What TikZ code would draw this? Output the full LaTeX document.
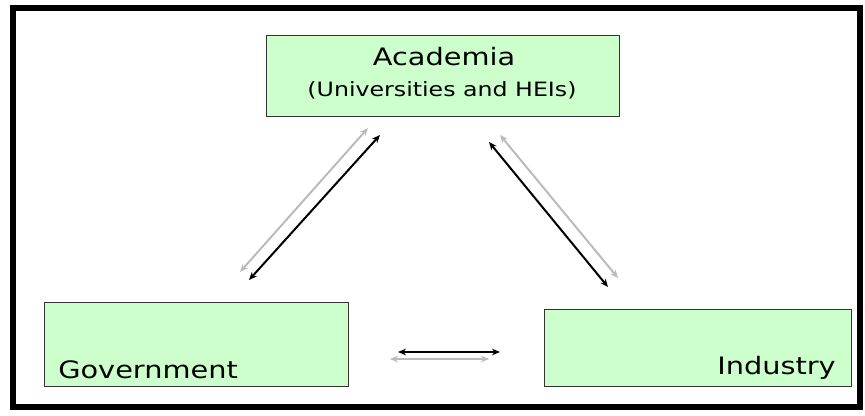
\documentclass[tikz,border=0pt]{standalone}
\usepackage{fontspec}
\usepackage{graphicx}
\setmainfont{DejaVu Sans}
\usetikzlibrary{arrows.meta}
\definecolor{boxgreen}{HTML}{CCFFCC}
\definecolor{lgray}{HTML}{BBBBBB}
\definecolor{edge}{HTML}{333333}
\newcommand{\wide}[1]{\scalebox{1.2}[1]{#1}}
\tikzset{
  entity/.style={draw=edge, line width=1.1pt, fill=boxgreen, inner sep=0pt},
  lbl/.style={inner sep=0pt, font=\fontsize{18}{21}\selectfont},
  link/.style={line width=1.5pt, {Stealth[length=6pt,width=5pt]}-{Stealth[length=6pt,width=5pt]}},
  blk/.style={link, draw=black},
  gry/.style={link, draw=lgray},
}
\begin{document}
\begin{tikzpicture}[x=0.75pt,y=-0.75pt]
\useasboundingbox (0,0) rectangle (865,415);
\fill[white] (0,0) rectangle (865,415);
\draw[line width=4.5pt] (13,8) rectangle (860,407);
% boxes
\node[entity, minimum width=264.75pt, minimum height=60.75pt, anchor=north west] (acad) at (266,35) {};
\node[lbl, anchor=base] (acadt) at (444,65) {\wide{Academia}};
\node[lbl, font=\fontsize{14.8}{17}\selectfont, anchor=base] (acads) at (442,96) {\wide{(Universities and HEIs)}};
\node[entity, minimum width=228pt, minimum height=63pt, anchor=north west] (gov) at (44,302) {};
\node[lbl, anchor=base west] (govt) at (58,378) {\wide{Government}};
\node[entity, minimum width=230.25pt, minimum height=57.75pt, anchor=north west] (ind) at (544,309) {};
\node[lbl, anchor=base east] (indt) at (836,374) {\wide{Industry}};
% arrow endpoints
\coordinate (g1a) at (368,128); \coordinate (g1b) at (240,272);
\coordinate (b1a) at (380,135); \coordinate (b1b) at (249,280);
\coordinate (g2a) at (500,135); \coordinate (g2b) at (618,278);
\coordinate (b2a) at (489,142); \coordinate (b2b) at (608,287);
\coordinate (b3a) at (398,352); \coordinate (b3b) at (500,352);
\coordinate (g3a) at (390,359); \coordinate (g3b) at (489,359);
\draw[gry] (g1a) -- (g1b);
\draw[blk] (b1a) -- (b1b);
\draw[gry] (g2a) -- (g2b);
\draw[blk] (b2a) -- (b2b);
\draw[blk] (b3a) -- (b3b);
\draw[gry] (g3a) -- (g3b);
\end{tikzpicture}
\end{document}
